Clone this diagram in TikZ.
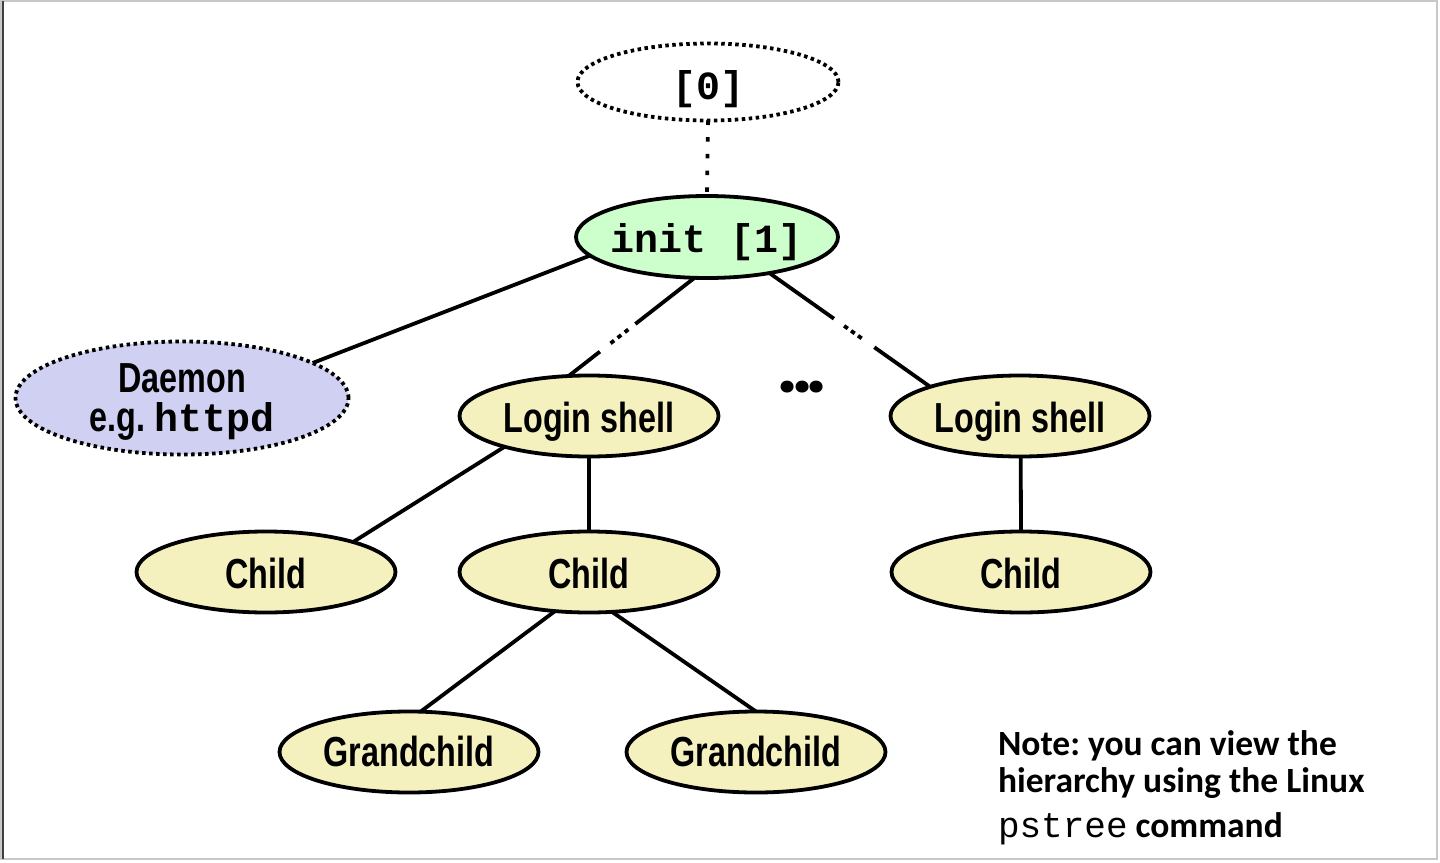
\documentclass[tikz,border=0pt]{standalone}
\usepackage{fontspec}
\usetikzlibrary{shapes.geometric}
\newfontfamily\narfont{Liberation Sans}[FakeStretch=0.77]
\newfontfamily\dotfont{Poppins}
\newfontfamily\cmono{Liberation Mono}
\newfontfamily\notefont{Carlito}
\newcommand\lab[2]{\raisebox{-#1pt}[0pt][0pt]{\makebox[0pt]{#2}}}
\definecolor{yel}{RGB}{245,241,190}
\definecolor{grn}{RGB}{204,255,204}
\definecolor{lav}{RGB}{208,208,242}
\definecolor{frame}{RGB}{200,200,200}
\begin{document}
\frenchspacing
\begin{tikzpicture}[x=1pt,y=-1pt,
  every node/.style={inner sep=0pt,outer sep=0pt},
  proc/.style={ellipse,draw,line width=3.8pt,fill=yel,minimum width=259pt,minimum height=81pt,
    font=\fontsize{42}{44}\selectfont\narfont\bfseries},
  monotxt/.style={font=\fontsize{40}{42}\selectfont\cmono\bfseries},
  dotted border/.style={dash pattern=on 3.5pt off 3.5pt},
  conn/.style={line width=3.8pt},
  notetxt/.style={anchor=base west,font=\fontsize{35.5}{37}\selectfont\notefont\bfseries}
]
\useasboundingbox (0,0) rectangle (1440,862);
\fill[white] (0,0) rectangle (1440,862);
\draw[frame,line width=1.5pt] (1,1) rectangle (1437,859);
\draw[black!75,line width=2pt] (2.5,1) -- (2.5,859);

% nodes
\node[ellipse,draw,line width=3.8pt,dotted border,minimum width=261pt,minimum height=77pt,monotxt] (zero) at (708,82) {\lab{17}{[0]}};
\node[ellipse,draw,line width=3.8pt,fill=grn,minimum width=262pt,minimum height=82pt,monotxt] (init) at (707,237) {\lab{15}{init [1]}};
\node[proc,fill=lav,dotted border,minimum width=333pt,minimum height=113pt] (dae) at (182,398)
  {\lab{-6}{Daemon}\lab{33}{e.g.\ {\fontsize{40}{42}\selectfont\cmono\bfseries httpd}}};
\node[proc] (ls1) at (589,416) {\lab{16}{Login shell}};
\node[proc] (ls2) at (1020,416) {\lab{16}{Login shell}};
\node[proc] (c1) at (266,572) {\lab{16}{Child}};
\node[proc] (c2) at (589,572) {\lab{16}{Child}};
\node[proc] (c3) at (1021,572) {\lab{16}{Child}};
\node[proc] (g1) at (409,752) {\lab{14}{Grandchild}};
\node[proc] (g2) at (756,752) {\lab{14}{Grandchild}};
\node[anchor=base,font=\fontsize{64}{66}\selectfont\dotfont\bfseries] (dots) at (802,392) {.\kern-3.5pt.\kern-3.5pt.};

% connectors
\draw[line width=3.8pt,dash pattern=on 4.5pt off 12.2pt] (zero.south) -- (init.north);
\draw[conn] (init.189) -- (dae.15.8);
\draw[conn,dash pattern=on 75pt off 9pt on 4.5pt off 4.5pt on 4.5pt off 4.5pt on 4.5pt off 13.5pt on 200pt] (init.253.7) -- (ls1.117);
\draw[conn,dash pattern=on 79pt off 12.5pt on 4.5pt off 4pt on 4.5pt off 4pt on 4.5pt off 15.5pt on 200pt] (init.-30.5) -- (ls2.162.6);
\draw[conn] (ls1.200.4) -- (c1.19.2);
\draw[conn] (ls1.south) -- (c2.north);
\draw[conn] (c2.229.4) -- (g1.74);
\draw[conn] (c2.-60.7) -- (g2.north);
\draw[conn] (ls2.271) -- (c3.north);

% note
\node[notetxt] (n1) at (998,755) {Note: you can view the};
\node[notetxt] (n2) at (998,792) {hierarchy using the Linux};
\node[notetxt] (n3) at (998,837) {{\fontsize{36}{37}\selectfont\cmono\mdseries pstree} command};
\end{tikzpicture}
\end{document}
